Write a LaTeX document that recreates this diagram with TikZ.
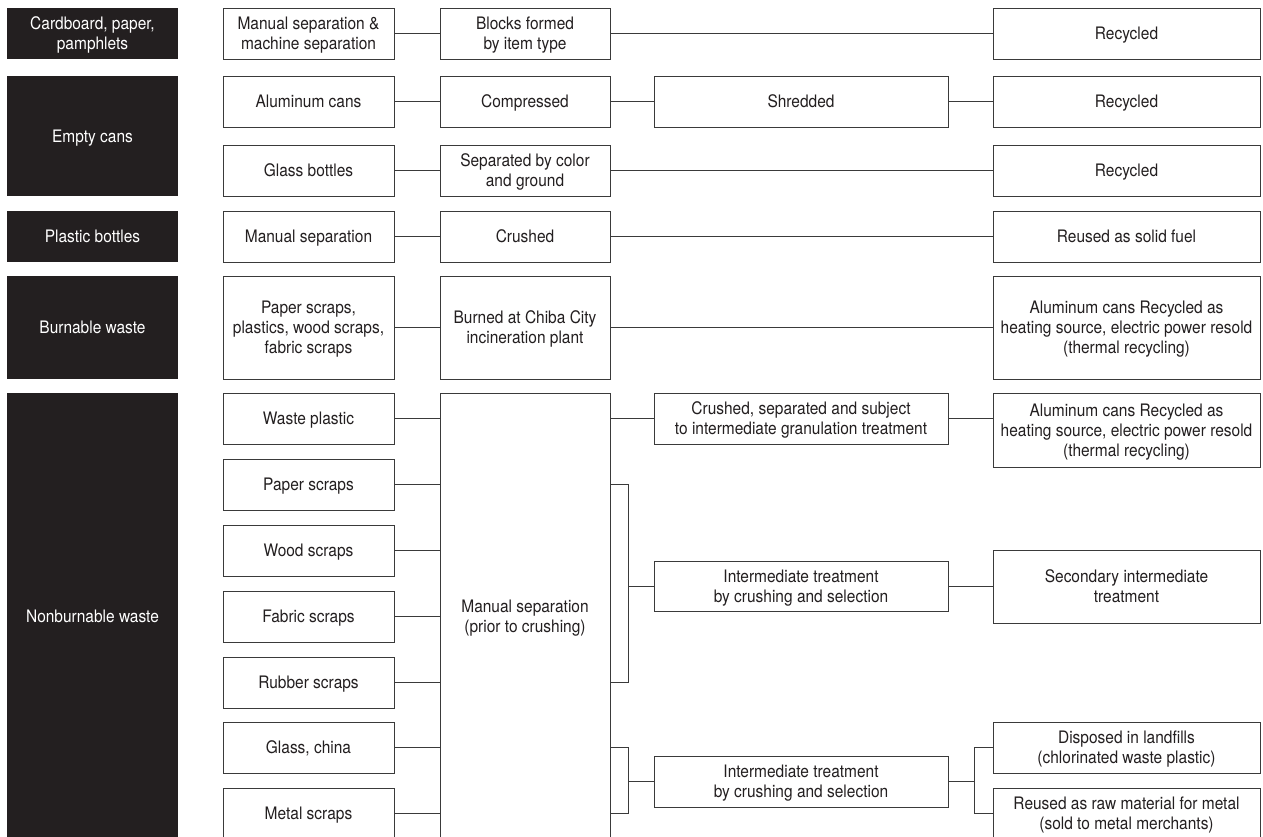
\documentclass[tikz,border=0pt]{standalone}
\usepackage{fontspec}
\setmainfont[FakeStretch=0.9]{TeX Gyre Heros}
\definecolor{ink}{HTML}{231F20}
\definecolor{edge}{HTML}{3A3A3A}
\begin{document}
\begin{tikzpicture}[x=1pt,y=-1pt,
  every node/.style={inner sep=0pt,outer sep=0pt,align=center,text depth=0pt,font=\fontsize{17.2}{20}\selectfont},
  cat/.style={fill=ink,text=white,minimum width=171pt},
  wbox/.style={draw=edge,line width=0.9pt,fill=white,text=ink},
  c1/.style={wbox,minimum width=171pt},
  c2/.style={wbox,minimum width=170pt},
  c3/.style={wbox,minimum width=294pt},
  c4/.style={wbox,minimum width=267pt},
  h51/.style={minimum height=51pt},
  link/.style={draw=edge,line width=0.9pt}]
\useasboundingbox (0,0) rectangle (1263,837);
\clip (0,0) rectangle (1263,837);
% categories
\node[cat,h51] (k1) at (92.5,33.5) {Cardboard, paper,\\pamphlets};
\node[cat,minimum height=120pt] (k2) at (92.5,136) {Empty cans};
\node[cat,h51] (k3) at (92.5,236.5) {Plastic bottles};
\node[cat,minimum height=103pt] (k4) at (92.5,327.5) {Burnable waste};
\node[cat,minimum height=446pt] (k5) at (92.5,616) {Nonburnable waste};
% row 1
\node[c1,h51] (a1) at (308.5,33.5) {Manual separation \&\\machine separation};
\node[c2,h51] (a2) at (525,33.5) {Blocks formed\\by item type};
\node[c4,h51] (a4) at (1126.5,33.5) {Recycled};
% row 2
\node[c1,h51] (b1) at (308.5,101.5) {Aluminum cans};
\node[c2,h51] (b2) at (525,101.5) {Compressed};
\node[c3,h51] (b3) at (801,101.5) {Shredded};
\node[c4,h51] (b4) at (1126.5,101.5) {Recycled};
% row 3
\node[c1,h51] (g1) at (308.5,170.5) {Glass bottles};
\node[c2,h51] (g2) at (525,170.5) {Separated by color\\and ground};
\node[c4,h51] (g4) at (1126.5,170.5) {Recycled};
% row 4
\node[c1,h51] (p1) at (308.5,236.5) {Manual separation};
\node[c2,h51] (p2) at (525,236.5) {Crushed};
\node[c4,h51] (p4) at (1126.5,236.5) {Reused as solid fuel};
% row 5
\node[c1,minimum height=103pt] (u1) at (308.5,327.5) {Paper scraps,\\plastics, wood scraps,\\fabric scraps};
\node[c2,minimum height=103pt] (u2) at (525,327.5) {Burned at Chiba City\\incineration plant};
\node[c4,minimum height=103pt] (u4) at (1126.5,327.5) {Aluminum cans Recycled as\\heating source, electric power resold\\(thermal recycling)};
% nonburnable
\node[c1,h51] (n1) at (308.5,418.5) {Waste plastic};
\node[c1,h51] (n2) at (308.5,484.5) {Paper scraps};
\node[c1,h51] (n3) at (308.5,550.5) {Wood scraps};
\node[c1,h51] (n4) at (308.5,616.5) {Fabric scraps};
\node[c1,h51] (n5) at (308.5,682.5) {Rubber scraps};
\node[c1,h51] (n6) at (308.5,747.5) {Glass, china};
\node[c1,h51] (n7) at (308.5,813.5) {Metal scraps};
\node[c2,minimum height=446pt] (big) at (525,616) {Manual separation\\(prior to crushing)};
\node[c3,h51] (m1) at (801,418.5) {Crushed, separated and subject\\to intermediate granulation treatment};
\node[c3,minimum height=50pt] (m2) at (801,586) {Intermediate treatment\\by crushing and selection};
\node[c3,h51] (m3) at (801,781.5) {Intermediate treatment\\by crushing and selection};
\node[c4,minimum height=74pt] (t1) at (1126.5,430) {Aluminum cans Recycled as\\heating source, electric power resold\\(thermal recycling)};
\node[c4,minimum height=73pt] (t2) at (1126.5,586.5) {Secondary intermediate\\treatment};
\node[c4,h51] (t3) at (1126.5,747.5) {Disposed in landfills\\(chlorinated waste plastic)};
\node[c4,h51] (t4) at (1126.5,813.5) {Reused as raw material for metal\\(sold to metal merchants)};
\coordinate (s1) at (628,0);
\coordinate (s3) at (974,0);
% connectors
\draw[link] (a1) -- (a2) (a2) -- (a4);
\draw[link] (b1) -- (b2) (b2) -- (b3) (b3) -- (b4);
\draw[link] (g1) -- (g2) (g2) -- (g4);
\draw[link] (p1) -- (p2) (p2) -- (p4);
\draw[link] (u1) -- (u2) (u2) -- (u4);
\foreach \n in {n1,n2,n3,n4,n5,n6,n7}
  \draw[link] (\n.east) -- (\n.east -| big.west);
\draw[link] (m1.west -| big.east) -- (m1.west);
\draw[link] (m1.east) -- (m1.east -| t1.west);
\draw[link] (n2.east -| big.east) -- (s1 |- n2.east) -- (s1 |- n5.east) -- (n5.east -| big.east);
\draw[link] (s1 |- m2.west) -- (m2.west);
\draw[link] (m2.east |- t2.west) -- (t2.west);
\draw[link] (n6.east -| big.east) -- (s1 |- n6.east) -- (s1 |- n7.east) -- (n7.east -| big.east);
\draw[link] (s1 |- m3.west) -- (m3.west);
\draw[link] (m3.east) -- (s3 |- m3.east);
\draw[link] (t3.west) -- (s3 |- t3.west) -- (s3 |- t4.west) -- (t4.west);
\end{tikzpicture}
\end{document}
